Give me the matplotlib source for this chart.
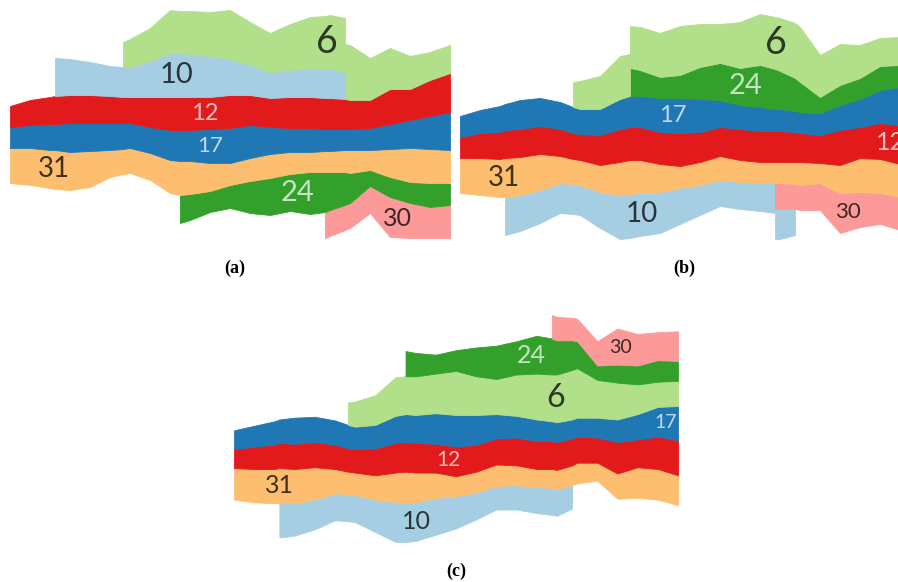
import numpy as np
import matplotlib
matplotlib.use('Agg')
import matplotlib.pyplot as plt

# sample positions along the time axis
t = [0, 20, 40, 45, 60, 80, 100, 113, 120, 140, 160, 170, 180, 200, 220,
     240, 260, 280, 300, 315, 320, 335, 340, 360, 380, 400, 420, 440]

# thickness of every stream at each sample (None = stream absent)
s6 = [None, None, None, None, None, None, None, 25, 28, 33, 43, 42, 43, 44,
      49, 43, 39, 46, 51, 52, 53, 55, 55, 42, 41, 33, 28, 28]
s10 = [None, None, None, 38, 36, 33, 30, 30, 30, 36, 44, 44, 43, 41, 36,
       30, 26, 27, 29, 30, 30, 26, None, None, None, None, None, None]
s12 = [21, 25, 27, 28, 28, 28, 27, 26, 26, 30, 33, 33, 33, 32, 33, 30, 29,
       31, 31, 31, 31, 30, 29, 28, 35, 31, 36, 39]
s17 = [21, 23, 26, 26, 29, 28, 27, 26, 25, 26, 30, 31, 31, 34, 35, 33, 27,
       24, 24, 22, 22, 21, 21, 22, 25, 28, 33, 38]
s24 = [None, None, None, None, None, None, None, None, None, None, None,
       28, 26, 21, 23, 32, 37, 37, 42, 40, 38, 33, 30, 16, 20, 21, 24, 22]
s30 = [None, None, None, None, None, None, None, None, None, None, None,
       None, None, None, None, None, None, None, None, 26, 26, 25, 25, 27,
       40, 35, 31, 33]
s31 = [35, 37, 38, 39, 38, 36, 27, 25, 25, 27, 33, 34, 33, 28, 22, 23, 24,
       22, 20, 21, 21, 22, 23, 20, 28, 34, 34, 33]

# offset of the bottom edge of stream 31 in each layout
base_a = [67, 65, 62, 61, 60, 63, 73, 76, 77, 70, 57, 55, 56, 59, 65, 69,
          72, 76, 78, 78, 78, 78, 77, 80, 73, 68, 67, 67]
base_b = [57, 55, 53, 53, 55, 60, 67, 66, 65, 58, 55, 56, 57, 58, 62, 65,
          70, 68, 68, 67, 67, 66, 65, 67, 57, 58, 57, 53]
base_c = [56, 53, 52, 52, 52, 56, 63, 62, 61, 56, 53, 53, 53, 58, 60, 64,
          71, 72, 70, 69, 68, 72, 74, 77, 57, 58, 56, 50]

# stacking order, bottom to top
order_a = ['30', '24', '31', '17', '12', '10', '6']
order_b = ['10', '30', '31', '12', '17', '24', '6']
order_c = ['10', '31', '12', '17', '6', '24', '30']

# label position along time and font size
labels_a = {'6': (317, 27), '10': (166, 21), '12': (195, 17), '17': (200, 16),
            '31': (44, 20), '24': (287, 21), '30': (387, 18)}
labels_b = {'6': (316, 27), '24': (286, 21), '17': (213, 17), '12': (430, 18),
            '31': (44, 20), '10': (182, 20), '30': (388, 16)}
labels_c = {'6': (319, 23), '24': (295, 18), '30': (383, 14), '17': (428, 14),
            '12': (212, 15), '31': (45, 18), '10': (181, 18)}

colors = {'6': '#b2df8a', '10': '#a6cee3', '12': '#e31a1c', '17': '#1f78b4',
          '24': '#33a02c', '30': '#fb9a99', '31': '#fdbf6f'}
light_text = {'12', '17', '24'}

streams = {'6': s6, '10': s10, '12': s12, '17': s17,
           '24': s24, '30': s30, '31': s31}
streams = {k: np.array(v, dtype=float) for k, v in streams.items()}


def expand(t, base, streams):
    # duplicate samples where a stream starts or stops, so its edge is vertical
    xs, bs = [], []
    th = {k: [] for k in streams}
    n = len(t)
    for i in range(n):
        left = {}
        right = {}
        for k, v in streams.items():
            ok = not np.isnan(v[i])
            left[k] = ok and (i == 0 or not np.isnan(v[i - 1]))
            right[k] = ok and (i == n - 1 or not np.isnan(v[i + 1]))
        states = [left] if left == right else [left, right]
        for st in states:
            xs.append(t[i])
            bs.append(base[i])
            for k, v in streams.items():
                th[k].append(v[i] if st[k] else 0.0)
    return np.array(xs, float), np.array(bs, float), {k: np.array(a) for k, a in th.items()}


def draw_stream(ax, order, base, labels):
    x, b, th = expand(t, base, streams)
    lo, hi = {}, {}
    i0 = order.index('31')
    y = b.copy()
    for k in order[i0:]:
        lo[k] = y
        y = y + th[k]
        hi[k] = y
    y = b.copy()
    for k in reversed(order[:i0]):
        hi[k] = y
        y = y - th[k]
        lo[k] = y
    for k in order:
        m = th[k] > 0
        ax.fill_between(x[m], lo[k][m], hi[k][m], color=colors[k],
                        lw=0.6, edgecolor=colors[k])
    for k, (tl, fs) in labels.items():
        m = th[k] > 0
        ym = np.interp(tl, x[m], (lo[k][m] + hi[k][m]) / 2)
        if k in light_text:
            c = (1, 1, 1, 0.72)
        else:
            c = (0, 0, 0, 0.75)
        ax.text(tl, ym, k, fontsize=fs, color=c, ha='center', va='center',
                family=['Lato', 'DejaVu Sans'])


W, H = 898, 582
fig = plt.figure(figsize=(W / 100, H / 100), dpi=100)

panels = [
    ('(a)', order_a, base_a, labels_a, (10, 0, 440, 250), 1.0, (234.5, 268)),
    ('(b)', order_b, base_b, labels_b, (460, 0, 440, 250), 1.0, (684, 268)),
    ('(c)', order_c, base_c, labels_c, (234, 300, 444, 250), 0.9, (456, 571)),
]

for name, order, base, labels, (px, py, pw, ph), sc, (cx, cy) in panels:
    ax = fig.add_axes([px / W, 1 - (py + ph) / H, pw / W, ph / H])
    draw_stream(ax, order, base, labels)
    ax.set_xlim(0, 440)
    ax.set_ylim(0, ph / sc)
    ax.axis('off')
    fig.text(cx / W, 1 - cy / H, name, fontsize=13, fontweight='bold',
             family='Liberation Serif', ha='center', va='center')

fig.savefig('out.png', dpi=100)
